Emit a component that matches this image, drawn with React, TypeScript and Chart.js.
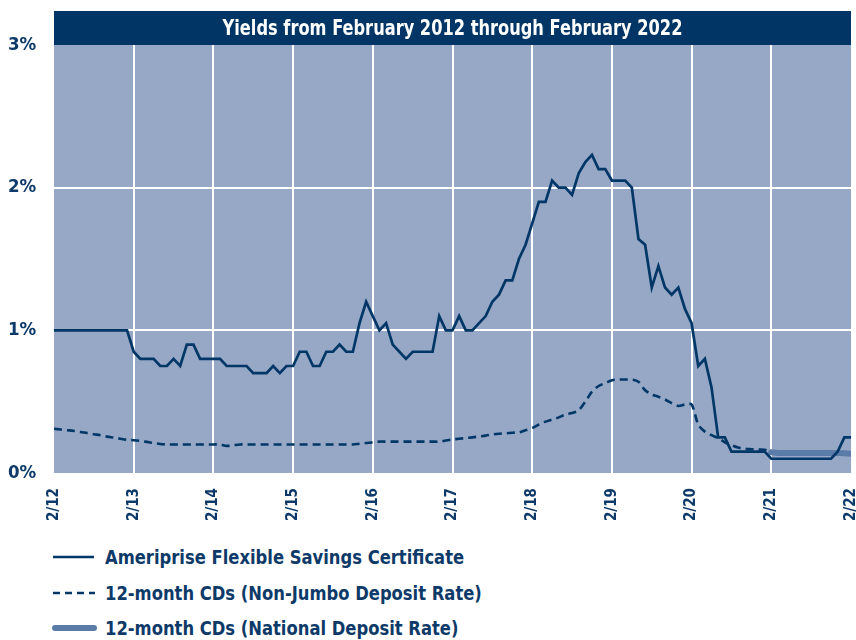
import React, { useEffect, useRef } from 'react';
import { Chart, registerables } from 'chart.js';

Chart.register(...registerables);

const chartTitle = 'Yields from February 2012 through February 2022';
const tickLabels = ['2/12', '2/13', '2/14', '2/15', '2/16', '2/17', '2/18', '2/19', '2/20', '2/21', '2/22'];
const yTickValues = [0, 1, 2, 3];

const seriesNames = [
  'Ameriprise Flexible Savings Certificate',
  '12-month CDs (Non-Jumbo Deposit Rate)',
  '12-month CDs (National Deposit Rate)',
];

// monthly values, Feb 2012 (index 0) to Feb 2022 (index 120)
const ameriprise = [
  1.0, 1.0, 1.0, 1.0, 1.0, 1.0, 1.0, 1.0, 1.0, 1.0, 1.0, 1.0,
  0.85, 0.8, 0.8, 0.8, 0.75, 0.75, 0.8, 0.75, 0.9, 0.9, 0.8, 0.8,
  0.8, 0.8, 0.75, 0.75, 0.75, 0.75, 0.7, 0.7, 0.7, 0.75, 0.7, 0.75,
  0.75, 0.85, 0.85, 0.75, 0.75, 0.85, 0.85, 0.9, 0.85, 0.85, 1.05, 1.2,
  1.1, 1.0, 1.05, 0.9, 0.85, 0.8, 0.85, 0.85, 0.85, 0.85, 1.1, 1.0,
  1.0, 1.1, 1.0, 1.0, 1.05, 1.1, 1.2, 1.25, 1.35, 1.35, 1.5, 1.6,
  1.75, 1.9, 1.9, 2.05, 2.0, 2.0, 1.95, 2.1, 2.18, 2.23, 2.13, 2.13,
  2.05, 2.05, 2.05, 2.0, 1.64, 1.6, 1.3, 1.45, 1.3, 1.25, 1.3, 1.15,
  1.05, 0.75, 0.8, 0.6, 0.25, 0.25, 0.15, 0.15, 0.15, 0.15, 0.15, 0.15,
  0.1, 0.1, 0.1, 0.1, 0.1, 0.1, 0.1, 0.1, 0.1, 0.1, 0.15, 0.25,
  0.25,
];

// Feb 2012 (index 0) to Feb 2021 (index 108)
const nonJumbo = [
  0.31, 0.305, 0.3, 0.295, 0.287, 0.28, 0.272, 0.265, 0.255, 0.248, 0.24, 0.233,
  0.23, 0.225, 0.218, 0.21, 0.203, 0.2, 0.2, 0.2, 0.2, 0.2, 0.2, 0.2,
  0.2, 0.2, 0.19, 0.195, 0.2, 0.2, 0.2, 0.2, 0.2, 0.2, 0.2, 0.2,
  0.2, 0.2, 0.2, 0.2, 0.2, 0.2, 0.2, 0.2, 0.2, 0.2, 0.205, 0.21,
  0.215, 0.22, 0.22, 0.22, 0.22, 0.22, 0.22, 0.22, 0.22, 0.22, 0.22, 0.228,
  0.235, 0.24, 0.245, 0.25, 0.256, 0.262, 0.27, 0.275, 0.278, 0.282, 0.285, 0.3,
  0.315, 0.34, 0.36, 0.375, 0.39, 0.41, 0.42, 0.44, 0.5, 0.57, 0.61, 0.63,
  0.65, 0.655, 0.655, 0.655, 0.64, 0.58, 0.55, 0.535, 0.515, 0.49, 0.47, 0.48,
  0.48, 0.34, 0.29, 0.265, 0.245, 0.215, 0.195, 0.178, 0.17, 0.167, 0.165, 0.163,
  0.145,
];

// Feb 2021 (index 108) to Feb 2022 (index 120)
const nationalStart = 108;
const national = [0.145, 0.14, 0.14, 0.14, 0.14, 0.14, 0.14, 0.14, 0.14, 0.14, 0.14, 0.138, 0.135];

const FONT = "'Liberation Sans Narrow', 'Arial Narrow', 'DejaVu Sans Condensed', 'Roboto Condensed', sans-serif";
const NAVY = '#0d3a68';
const LINE = '#003767';
const NATIONAL = '#5b7ba8';
const PLOT_BG = '#97a8c6';
const BAR_BG = '#003565';

const bgPlugin = {
  id: 'bgPlugin',
  beforeDraw(chart: any) {
    const { ctx, chartArea } = chart;
    if (!chartArea) return;
    ctx.save();
    ctx.fillStyle = PLOT_BG;
    ctx.fillRect(chartArea.left, chartArea.top, chartArea.right - chartArea.left, chartArea.bottom - chartArea.top);
    ctx.fillStyle = BAR_BG;
    ctx.fillRect(chartArea.left, chartArea.top - 34, chartArea.right - chartArea.left, 34);
    ctx.restore();
  },
};

export default function App() {
  const ref = useRef<HTMLCanvasElement | null>(null);

  useEffect(() => {
    if (!ref.current) return;
    const chart = new Chart(ref.current, {
      type: 'line',
      data: {
        datasets: [
          {
            label: seriesNames[0],
            data: ameriprise.map((v, i) => ({ x: i, y: v })),
            borderColor: LINE,
            borderWidth: 2.7,
            pointRadius: 0,
            tension: 0,
            fill: false,
          },
          {
            label: seriesNames[1],
            data: nonJumbo.map((v, i) => ({ x: i, y: v })),
            borderColor: LINE,
            borderWidth: 2.6,
            borderDash: [8, 5],
            pointRadius: 0,
            tension: 0.3,
            fill: false,
          },
          {
            label: seriesNames[2],
            data: national.map((v, i) => ({ x: nationalStart + i, y: v })),
            borderColor: NATIONAL,
            borderWidth: 6,
            borderCapStyle: 'round',
            pointRadius: 0,
            tension: 0,
            fill: false,
          },
        ],
      },
      options: {
        animation: false,
        responsive: false,
        maintainAspectRatio: false,
        layout: { padding: { left: 8, right: 5, top: 45, bottom: 0 } },
        plugins: {
          legend: { display: false },
          tooltip: { enabled: false },
          title: { display: false },
        },
        scales: {
          x: {
            type: 'linear',
            min: 0,
            max: 120,
            afterFit: (s: any) => {
              s.height = 57;
              s.paddingLeft = 0;
              s.paddingRight = 0;
            },
            afterBuildTicks: (s: any) => {
              s.ticks = tickLabels.map((_, i) => ({ value: i * 12 }));
            },
            ticks: {
              autoSkip: false,
              minRotation: 90,
              maxRotation: 90,
              padding: 15,
              color: NAVY,
              font: { family: FONT, size: 15, weight: 'bold' },
              callback: (v: any) => tickLabels[Math.round(Number(v) / 12)],
            },
            grid: {
              drawTicks: false,
              lineWidth: 2,
              color: (c: any) =>
                c.tick && (c.tick.value === 0 || c.tick.value === 120) ? 'rgba(0,0,0,0)' : '#ffffff',
            },
            border: { display: false },
          },
          y: {
            type: 'linear',
            min: 0,
            max: 3,
            afterFit: (s: any) => {
              s.width = 46;
              s.paddingTop = 0;
              s.paddingBottom = 0;
            },
            afterBuildTicks: (s: any) => {
              s.ticks = yTickValues.map((v) => ({ value: v }));
            },
            ticks: {
              crossAlign: 'far',
              color: NAVY,
              font: { family: FONT, size: 18.5, weight: 'bold' },
              callback: (v: any) => `${v}%`,
            },
            grid: {
              drawTicks: false,
              lineWidth: 2,
              color: (c: any) =>
                c.tick && (c.tick.value === 0 || c.tick.value === 3) ? 'rgba(0,0,0,0)' : '#ffffff',
            },
            border: { display: false },
          },
        },
      },
      plugins: [bgPlugin],
    } as any);
    return () => chart.destroy();
  }, []);

  const legendRow = (i: number, top: number, sample: React.ReactNode) => (
    <div key={i} style={{ position: 'absolute', left: 0, top, height: 36, width: 856 }}>
      <svg width={48} height={12} style={{ position: 'absolute', left: 50, top: 12 }}>
        {sample}
      </svg>
      <span
        style={{
          position: 'absolute',
          left: 105,
          top: 0,
          lineHeight: '36px',
          fontFamily: FONT,
          fontWeight: 'bold',
          fontSize: 20,
          color: NAVY,
          whiteSpace: 'nowrap',
          transform: 'scaleX(0.91)',
          transformOrigin: '0 50%',
        }}
      >
        {seriesNames[i]}
      </span>
    </div>
  );

  return (
    <div style={{ position: 'absolute', left: 0, top: 0, width: 856, height: 640, overflow: 'hidden', background: '#fff' }}>
      <canvas ref={ref} width={856} height={530} style={{ position: 'absolute', left: 0, top: 0, width: 856, height: 530 }} />
      <div
        style={{
          position: 'absolute',
          left: 54,
          top: 11,
          width: 797,
          height: 34,
          lineHeight: '34px',
          textAlign: 'center',
          color: '#ffffff',
          fontFamily: FONT,
          fontWeight: 'bold',
          fontSize: 22,
          whiteSpace: 'nowrap',
          transform: 'scaleX(0.82)',
          transformOrigin: '50% 50%',
        }}
      >
        {chartTitle}
      </div>
      {legendRow(0, 539, <line x1={3} y1={6} x2={44} y2={6} stroke={LINE} strokeWidth={2.6} />)}
      {legendRow(1, 575, <line x1={3} y1={6} x2={45} y2={6} stroke={LINE} strokeWidth={2.6} strokeDasharray="7 5" />)}
      {legendRow(
        2,
        610,
        <line x1={5} y1={6} x2={44} y2={6} stroke={NATIONAL} strokeWidth={6} strokeLinecap="round" />
      )}
    </div>
  );
}
